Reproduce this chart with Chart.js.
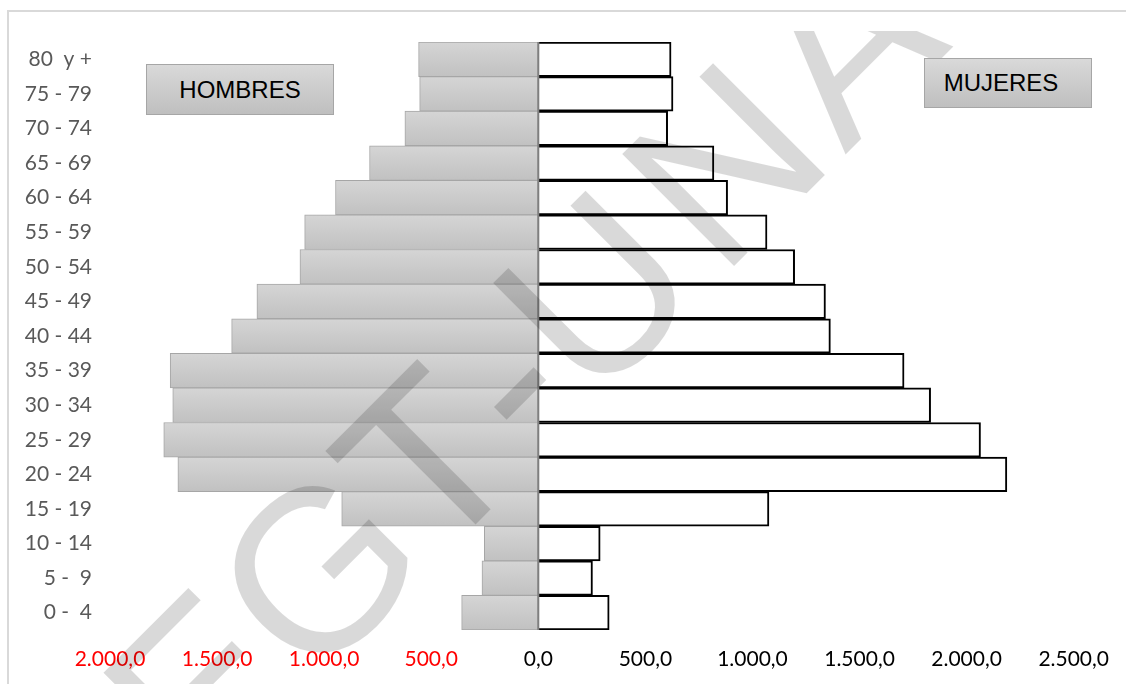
<!DOCTYPE html>
<html><head><meta charset="utf-8">
<script src="https://cdn.jsdelivr.net/npm/chart.js@4"></script>
<style>
html,body{margin:0;padding:0;background:#fff;}
#wrap{position:relative;width:1126px;height:684px;overflow:hidden;}
#frame{position:absolute;left:7px;top:10px;width:1300px;height:900px;border-top:2px solid #d9d9d9;border-left:2px solid #d9d9d9;}
canvas{position:absolute;left:0;top:0;}
.box{position:absolute;border:1px solid #a6a6a6;background:linear-gradient(#d9d9d9,#bfbfbf);font-family:"Liberation Sans",Arial,sans-serif;font-size:24px;color:#000;display:flex;align-items:center;justify-content:center;box-sizing:border-box;}
</style></head>
<body><div id="wrap"><div id="frame"></div><canvas id="c" width="1126" height="684"></canvas>
<div class="box" style="left:146px;top:64px;width:188px;height:51px;">HOMBRES</div>
<div class="box" style="left:924px;top:58px;width:168px;height:50px;padding-right:14px;">MUJERES</div>
</div>
<script>
const categories = ['80  y +','75 - 79','70 - 74','65 - 69','60 - 64','55 - 59','50 - 54','45 - 49','40 - 44','35 - 39','30 - 34','25 - 29','20 - 24','15 - 19','10 - 14','5 -  9','0 -  4'];
const hombres = [559,554,623,788,947,1091,1113,1314,1432,1719,1707,1749,1683,918,252,263,358];
const mujeres = [620,629,604,820,884,1068,1197,1341,1364,1708,1832,2065,2188,1077,289,253,331];
const xMin = -2000, xMax = 2500, xStep = 500;
const watermark = 'EGT-UNA';

function fmt(v){
  const a = Math.abs(v);
  const s = Math.round(a).toString().replace(/\B(?=(\d{3})+(?!\d))/g,'.');
  return s + ',0';
}

function menGradient(ctx){
  const chart = ctx.chart;
  const ys = chart.scales && chart.scales.y;
  const area = chart.chartArea;
  if(!ys || !area || ctx.dataIndex === undefined) return '#c9c9c9';
  const yc = ys.getPixelForValue(ctx.dataIndex);
  if(!isFinite(yc)) return '#c9c9c9';
  const half = (area.bottom - area.top) / categories.length / 2;
  const g = chart.ctx.createLinearGradient(0, yc - half, 0, yc + half);
  g.addColorStop(0, '#d5d5d5');
  g.addColorStop(1, '#c1c1c1');
  return g;
}

const axisLine = {
  id:'axisLine',
  afterDatasetsDraw(chart){
    const c = chart.ctx, x = chart.scales.x.getPixelForValue(0), a = chart.chartArea;
    c.save(); c.strokeStyle = '#7f7f7f'; c.lineWidth = 2;
    c.beginPath(); c.moveTo(x, a.top); c.lineTo(x, a.bottom); c.stroke(); c.restore();
  }
};
const wm = {
  id:'wm',
  afterDraw(chart){
    const c = chart.ctx;
    c.save();
    c.beginPath(); c.rect(0, 31, chart.width, chart.height - 31); c.clip();
    c.translate(202, 798); c.rotate(-Math.PI/4);
    c.font = '230px "Liberation Sans", Arial, sans-serif';
    c.fillStyle = 'rgba(0,0,0,0.15)';
    c.textBaseline = 'alphabetic';
    const extra = [0,0,-5,0,3,18,28];
    let u = 0;
    for(let i=0;i<watermark.length;i++){
      const ch = watermark[i];
      c.fillText(ch, u + extra[i], 0);
      u += c.measureText(ch).width;
    }
    c.restore();
  }
};

const chart = new Chart(document.getElementById('c'), {
  type:'bar',
  data:{
    labels: categories,
    datasets:[
      {label:'HOMBRES', data: hombres.map(v => -v), backgroundColor: menGradient, borderColor:'#a6a6a6', borderWidth:1, borderSkipped:false},
      {label:'MUJERES', data: mujeres, backgroundColor:'#ffffff', borderColor:'#000000', borderWidth:2, borderSkipped:'start'}
    ]
  },
  options:{
    indexAxis:'y',
    responsive:false,
    animation:false,
    devicePixelRatio:1,
    barPercentage:1,
    categoryPercentage:1,
    layout:{padding:{top:42, right:49, bottom:0, left:0}},
    plugins:{legend:{display:false}, tooltip:{enabled:false}, title:{display:false}},
    scales:{
      x:{
        stacked:true, min:xMin, max:xMax,
        grid:{display:false, drawTicks:false},
        border:{display:false},
        ticks:{stepSize:xStep, padding:17, autoSkip:false, maxRotation:0,
          font:{family:'Lato', size:21},
          color:(ctx)=> ctx.tick && ctx.tick.value < 0 ? '#ff0000' : '#000000',
          callback:(v)=>fmt(v)},
        afterFit:(s)=>{ s.height = 54; }
      },
      y:{
        stacked:true,
        grid:{display:false, drawTicks:false},
        border:{display:false},
        ticks:{padding:18, font:{family:'Lato', size:21}, color:'#595959', autoSkip:false},
        afterFit:(s)=>{ s.width = 110; }
      }
    }
  },
  plugins:[axisLine, wm]
});
chart.update();
</script>
</body></html>
